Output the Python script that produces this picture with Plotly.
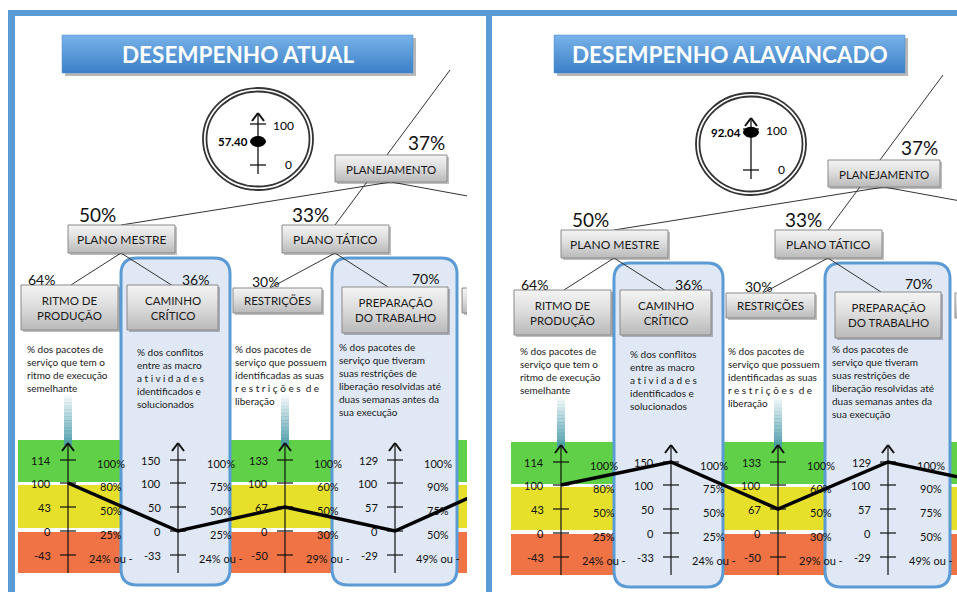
import numpy as np
import plotly.graph_objects as go

# ---------------- data ----------------
panel_titles = ["DESEMPENHO ATUAL", "DESEMPENHO ALAVANCADO"]
gauge_values = [57.40, 92.04]
gauge_ticks = [100, 0]
top_node = "PLANEJAMENTO"
top_pct = "37%"
mid_nodes = ["PLANO MESTRE", "PLANO TÁTICO"]
mid_pcts = ["50%", "33%"]
indicator_names = ["RITMO DE<br>PRODUÇÃO", "CAMINHO<br>CRÍTICO", "RESTRIÇÕES", "PREPARAÇÃO<br>DO TRABALHO"]
indicator_pcts = ["64%", "36%", "30%", "70%"]
indicator_desc = [
    "% dos pacotes de<br>serviço que tem o<br>ritmo de execução<br>semelhante",
    "% dos conflitos<br>entre as macro<br>a t i v i d a d e s<br>identificados e<br>solucionados",
    "% dos pacotes de<br>serviço que possuem<br>identificadas as suas<br>r e s t r i ç õ e s  d e<br>liberação",
    "% dos pacotes de<br>serviço que tiveram<br>suas restrições de<br>liberação resolvidas até<br>duas semanas antes da<br>sua execução",
]
tick_values = [
    [114, 100, 43, 0, -43],
    [150, 100, 50, 0, -33],
    [133, 100, 67, 0, -50],
    [129, 100, 57, 0, -29],
]
tick_percents = [
    ["100%", "80%", "50%", "25%", "24% ou -"],
    ["100%", "75%", "50%", "25%", "24% ou -"],
    ["100%", "60%", "50%", "30%", "29% ou -"],
    ["100%", "90%", "75%", "50%", "49% ou -"],
]
# fifth indicator lies outside the visible window (only the line leaving it is seen)
next_ticks = [150, 100, 50, 0, -50]
values_atual = [100, 0, 67, 0]
values_alavancado = [100, 150, 67, 129]
next_values = [100, 100]
panel_values = [values_atual, values_alavancado]

# ---------------- layout constants ----------------
W, H = 957, 592
BLUE = "#5b9bd5"
FONT = "Lato"
axis_x = [68, 178, 285, 395, 502]
level_y = [460, 483, 507, 531, 555]
gauge_y = [124, 165]  # y of 100 and 0

panels = [
    dict(dx=0, dyt=0, dyb=0, xr="x", yr="y"),
    dict(dx=493, dyt=5, dyb=2, xr="x2", yr="y2"),
]

shapes = []
annotations = []
traces = []


def px(x):
    return x / W


def py(y):
    return 1 - y / H


def ann(x, y, text, size, xr, yr, xanchor="center", yanchor="middle", color="#111",
        bold=False, align="center"):
    if bold:
        text = "<b>" + text + "</b>"
    annotations.append(dict(x=x, y=y, xref=xr, yref=yr, text=text, showarrow=False,
                            xanchor=xanchor, yanchor=yanchor, align=align,
                            font=dict(family=FONT, size=size, color=color)))


def line(x0, y0, x1, y1, xr, yr, color="#222", width=1.2):
    shapes.append(dict(type="line", x0=x0, y0=y0, x1=x1, y1=y1, xref=xr, yref=yr,
                       line=dict(color=color, width=width), layer="below"))


def rect(x0, y0, x1, y1, xr, yr, fill, lc=None, lw=0, layer="below", opacity=1):
    shapes.append(dict(type="rect", x0=x0, y0=y0, x1=x1, y1=y1, xref=xr, yref=yr,
                       fillcolor=fill, line=dict(color=lc or fill, width=lw),
                       layer=layer, opacity=opacity))


def rrect_path(x0, y0, x1, y1, r):
    return (f"M {x0+r},{y0} L {x1-r},{y0} Q {x1},{y0} {x1},{y0+r} L {x1},{y1-r} "
            f"Q {x1},{y1} {x1-r},{y1} L {x0+r},{y1} Q {x0},{y1} {x0},{y1-r} "
            f"L {x0},{y0+r} Q {x0},{y0} {x0+r},{y0} Z")


def grad_box(x0, y0, x1, y1, xa, ya, cs, lc, lw=1, shadow=0.3, sh=3):
    # shadow
    traces.append(go.Scatter(x=[x0 + sh, x1 + sh, x1 + sh, x0 + sh, x0 + sh],
                             y=[y0 + sh, y0 + sh, y1 + sh, y1 + sh, y0 + sh],
                             fill="toself", mode="lines", line=dict(width=0),
                             fillcolor=f"rgba(0,0,0,{shadow})", xaxis=xa, yaxis=ya,
                             hoverinfo="skip", showlegend=False))
    traces.append(go.Scatter(x=[x0, x1, x1, x0, x0], y=[y0, y0, y1, y1, y0],
                             fill="toself", mode="lines", line=dict(color=lc, width=lw),
                             fillgradient=dict(type="vertical", colorscale=cs, start=y0, stop=y1),
                             xaxis=xa, yaxis=ya, hoverinfo="skip", showlegend=False))


def ymap(v, ticks, dyb):
    t = np.array(ticks, dtype=float)[::-1]
    lv = (np.array(level_y, dtype=float) + dyb)[::-1]
    return float(np.interp(v, t, lv))


BTN_CS = [[0, "#f4f4f4"], [0.45, "#dedede"], [1, "#b9b9b9"]]
TITLE_CS = [[0, "#78b2e8"], [1, "#3b80c7"]]

# outer frame
for (x0, y0, x1, y1) in [(8, 10, 957, 16), (8, 10, 15, 592), (486, 10, 492, 592)]:
    shapes.append(dict(type="rect", x0=px(x0), x1=px(x1), y0=py(y0), y1=py(y1),
                       xref="paper", yref="paper", fillcolor=BLUE, line=dict(width=0),
                       layer="above"))

for pi, P in enumerate(panels):
    dx, dyt, dyb, xr, yr = P["dx"], P["dyt"], P["dyb"], P["xr"], P["yr"]
    xa = xr
    ya = yr
    X = lambda x: x + dx

    # colour bands
    rect(X(18), 440 + dyb, X(560), 482 + dyb, xr, yr, "#5fd047")
    rect(X(18), 485 + dyb, X(560), 528 + dyb, xr, yr, "#e7e02b")
    rect(X(18), 532 + dyb, X(560), 573 + dyb, xr, yr, "#f07345")

    # highlight boxes
    for (bx0, bx1) in [(121, 230), (332, 457)]:
        shapes.append(dict(type="path", path=rrect_path(X(bx0), 258 + dyt, X(bx1), 585 + dyb, 16),
                           xref=xr, yref=yr, fillcolor="#dfe8f4",
                           line=dict(color=BLUE, width=3), layer="below"))

    # teal gradient strips
    for ax in [axis_x[0], axis_x[2]]:
        n = 14
        for k in range(n):
            ya0 = 395 + dyb + k * 50 / n
            rect(X(ax - 4), ya0, X(ax + 4), ya0 + 50 / n + 0.5, xr, yr,
                 "#4d9cab", opacity=(k + 1) / n * 0.95)

    # tree connector lines
    line(X(450), 70 + dyt, X(335), 225 + dyt, xr, yr, "#333", 1)
    line(X(391), 182 + dyt, X(121), 225 + dyt, xr, yr, "#333", 1)
    line(X(391), 182 + dyt, X(560), 213 + dyt, xr, yr, "#333", 1)
    line(X(121), 253 + dyt, X(71), 285 + dyt, xr, yr, "#333", 1)
    line(X(121), 253 + dyt, X(173), 286 + dyt, xr, yr, "#333", 1)
    line(X(335), 253 + dyt, X(270), 288 + dyt, xr, yr, "#333", 1)
    line(X(335), 253 + dyt, X(388), 287 + dyt, xr, yr, "#333", 1)

    # gauge
    gcx = X(258)
    shapes.append(dict(type="circle", x0=X(203), x1=X(313), y0=88 + dyt, y1=190 + dyt,
                       xref=xr, yref=yr, fillcolor="white", line=dict(color="#333", width=1.8),
                       layer="below"))
    shapes.append(dict(type="circle", x0=X(206.5), x1=X(309.5), y0=91.5 + dyt, y1=186.5 + dyt,
                       xref=xr, yref=yr, fillcolor="white", line=dict(color="#333", width=1.8),
                       layer="below"))
    line(gcx, 113 + dyt, gcx, 174 + dyt, xr, yr, "#111", 1.3)
    line(gcx - 6, 121 + dyt, gcx, 113 + dyt, xr, yr, "#111", 2)
    line(gcx + 6, 121 + dyt, gcx, 113 + dyt, xr, yr, "#111", 2)
    for gy in gauge_y:
        line(gcx - 8, gy + dyt, gcx + 8, gy + dyt, xr, yr, "#111", 1.3)
    gv = gauge_values[pi]
    gdot = float(np.interp(gv, [0, 100], [gauge_y[1], gauge_y[0]])) + dyt
    shapes.append(dict(type="circle", x0=gcx - 7.5, x1=gcx + 7.5, y0=gdot - 5, y1=gdot + 5,
                       xref=xr, yref=yr, fillcolor="#000", line=dict(color="#000", width=1),
                       layer="below"))
    ann(X(250), gdot, f"{gv:.2f}", 11.5, xr, yr, xanchor="right", bold=True, color="#000")
    ann(X(271), gauge_y[0] + 1 + dyt, str(gauge_ticks[0]), 12, xr, yr, xanchor="left", color="#000")
    ann(X(283), gauge_y[1] - 1 + dyt, str(gauge_ticks[1]), 12, xr, yr, xanchor="left", color="#000")

    # indicator axes
    for i, ax in enumerate(axis_x[:4]):
        axx = X(ax)
        line(axx, 444 + dyb, axx, 573 + dyb, xr, yr, "#111", 1.2)
        line(axx - 6, 451 + dyb, axx, 443 + dyb, xr, yr, "#111", 2)
        line(axx + 6, 451 + dyb, axx, 443 + dyb, xr, yr, "#111", 2)
        for j, ly in enumerate(level_y):
            line(axx - 8, ly + dyb, axx + 8, ly + dyb, xr, yr, "#111", 1.2)
            ann(axx - 15, ly + dyb, str(tick_values[i][j]), 11, xr, yr, xanchor="right", color="#111")
            ann(axx + 43, ly + 3 + dyb, tick_percents[i][j], 11, xr, yr, color="#111")

    # title
    grad_box(X(62) - (1 if pi else 0), 35, X(413) - (1 if pi else 0), 73, xa, ya, TITLE_CS,
             "#4a8ccf", 0.5, shadow=0.28, sh=3)
    ann((X(62) + X(413)) / 2 - (1 if pi else 0), 54, panel_titles[pi], 22.5, xr, yr,
        bold=True, color="white")

    # tree nodes
    grad_box(X(335), 155 + dyt, X(447), 182 + dyt, xa, ya, BTN_CS, "#8a8a8a", 1, 0.25, 2)
    ann(X(391), 169 + dyt, top_node, 11.5, xr, yr, color="#1a1a1a")
    ann(X(426), 142 + dyt, top_pct, 19, xr, yr, color="#111")
    for (bx0, bx1, cx, pcx), name, pct in zip([(68, 175, 121.5, 97), (282, 389, 335.5, 310)],
                                             mid_nodes, mid_pcts):
        grad_box(X(bx0), 225 + dyt, X(bx1), 253 + dyt, xa, ya, BTN_CS, "#8a8a8a", 1, 0.25, 2)
        ann(X(cx), 239 + dyt, name, 12, xr, yr, color="#1a1a1a")
        ann(X(pcx), 214 + dyt, pct, 19, xr, yr, color="#111")

    boxes = [(21, 285, 118, 330), (127, 285, 218, 330), (233, 288, 322, 313), (342, 287, 448, 333)]
    pct_pos = [(41, 279), (195, 279), (265, 281), (425, 278)]
    for (bx0, by0, bx1, by1), name, pct, (ppx, ppy) in zip(boxes, indicator_names, indicator_pcts, pct_pos):
        grad_box(X(bx0), by0 + dyt, X(bx1), by1 + dyt, xa, ya, BTN_CS, "#8a8a8a", 1, 0.25, 2)
        ann(X((bx0 + bx1) / 2), (by0 + by1) / 2 + dyt, name, 11.5, xr, yr, color="#1a1a1a")
        ann(X(ppx), ppy + dyt, pct, 14, xr, yr, color="#111")
    # partially visible next node at the clipped edge
    grad_box(X(462), 288 + dyt, X(560), 313 + dyt, xa, ya, BTN_CS, "#8a8a8a", 1, 0.25, 2)

    # descriptions
    desc_pos = [(25, 341), (135, 344), (233, 341), (337, 339)]
    for (tx, ty), txt in zip(desc_pos, indicator_desc):
        ann(X(tx), ty + dyb, txt, 10, xr, yr, xanchor="left", yanchor="top",
            align="left", color="#1a1a1a")

    # performance line
    vals = panel_values[pi] + [next_values[pi]]
    ticks_all = tick_values + [next_ticks]
    lx = [X(a) for a in axis_x]
    ly = [ymap(v, t, dyb) for v, t in zip(vals, ticks_all)]
    traces.append(go.Scatter(x=lx, y=ly, mode="lines", line=dict(color="#000", width=3.5),
                             xaxis=xa, yaxis=ya, hoverinfo="skip", showlegend=False))

fig = go.Figure(data=traces)
fig.update_layout(
    width=W, height=H, autosize=False,
    margin=dict(l=0, r=0, t=0, b=0, pad=0),
    paper_bgcolor="white", plot_bgcolor="white",
    shapes=shapes, annotations=annotations,
    xaxis=dict(domain=[0, 467 / W], range=[0, 467], visible=False, fixedrange=True),
    yaxis=dict(domain=[0, 1], range=[H, 0], visible=False, fixedrange=True),
    xaxis2=dict(domain=[493 / W, 1], range=[493, W], visible=False, fixedrange=True, anchor="y2"),
    yaxis2=dict(domain=[0, 1], range=[H, 0], visible=False, fixedrange=True, anchor="x2"),
    showlegend=False,
)
fig.write_html("out.html")
